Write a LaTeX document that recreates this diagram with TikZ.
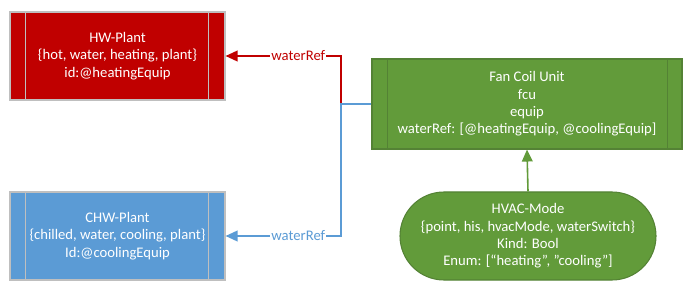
\documentclass[tikz,border=0pt]{standalone}
\usepackage{fontspec}
\setmainfont{Carlito}
\usetikzlibrary{arrows.meta}

\definecolor{hwred}{HTML}{C00000}
\definecolor{chwblue}{HTML}{5B9BD5}
\definecolor{fcugreen}{HTML}{629B3A}
\definecolor{fcuedge}{HTML}{548235}
\definecolor{plantedge}{HTML}{BFBFBF}

\begin{document}
\begin{tikzpicture}[x=0.75pt, y=-0.75pt,
    every node/.style={font=\fontsize{11}{13}\selectfont, align=center, text=white},
    process/.style={draw, line width=0.8pt, minimum width=161.25pt, minimum height=66pt},
    ref/.style={line width=1.2pt, -{Triangle[length=9pt, width=8pt]}},
    reflabel/.style={fill=white, inner sep=1pt}]
    \useasboundingbox (0,0) rectangle (696,299);

    % The two plants on the left
    \node[process, fill=hwred, draw=plantedge] (hw) at (117.5,56)
        {HW-Plant\\\{hot, water, heating, plant\}\\id:@heatingEquip};
    \node[process, fill=chwblue, draw=plantedge] (chw) at (117.5,236)
        {CHW-Plant\\\{chilled, water, cooling, plant\}\\Id:@coolingEquip};

    % The equip and its point
    \node[process, fill=fcugreen, draw=fcuedge, minimum width=232.5pt, minimum height=67.5pt] (fcu) at (527,104)
        {Fan Coil Unit\\fcu\\equip\\waterRef: [@heatingEquip, @coolingEquip]};
    \node[fill=fcugreen, draw=fcuedge, line width=0.8pt, rounded corners=33pt,
          minimum width=192pt, minimum height=66pt] (mode) at (528,236)
        {HVAC-Mode\\\{point, his, hvacMode, waterSwitch\}\\Kind: Bool\\Enum: [``heating'', ''cooling'']};

    % Side bars of the process boxes
    \draw[plantedge, line width=0.6pt] ([xshift=12pt]hw.north west) -- ([xshift=12pt]hw.south west)
        ([xshift=-12.5pt]hw.north east) -- ([xshift=-12.5pt]hw.south east);
    \draw[plantedge, line width=0.6pt] ([xshift=12pt]chw.north west) -- ([xshift=12pt]chw.south west)
        ([xshift=-12.5pt]chw.north east) -- ([xshift=-12.5pt]chw.south east);
    \draw[fcuedge, line width=0.6pt] ([xshift=12pt]fcu.north west) -- ([xshift=12pt]fcu.south west)
        ([xshift=-11pt]fcu.north east) -- ([xshift=-11pt]fcu.south east);

    % waterRef links
    \coordinate (split) at (341,104);
    \draw[ref, hwred] (fcu.west) -- (split) |- (hw.east)
        node[reflabel, text=hwred, pos=0.685] {waterRef};
    \draw[ref, chwblue] (fcu.west) -- (split) |- (chw.east)
        node[reflabel, text=chwblue, pos=0.685] {waterRef};

    % Point belongs to the equip
    \draw[ref, fcugreen] (mode.north) -- (fcu.south);
\end{tikzpicture}
\end{document}
